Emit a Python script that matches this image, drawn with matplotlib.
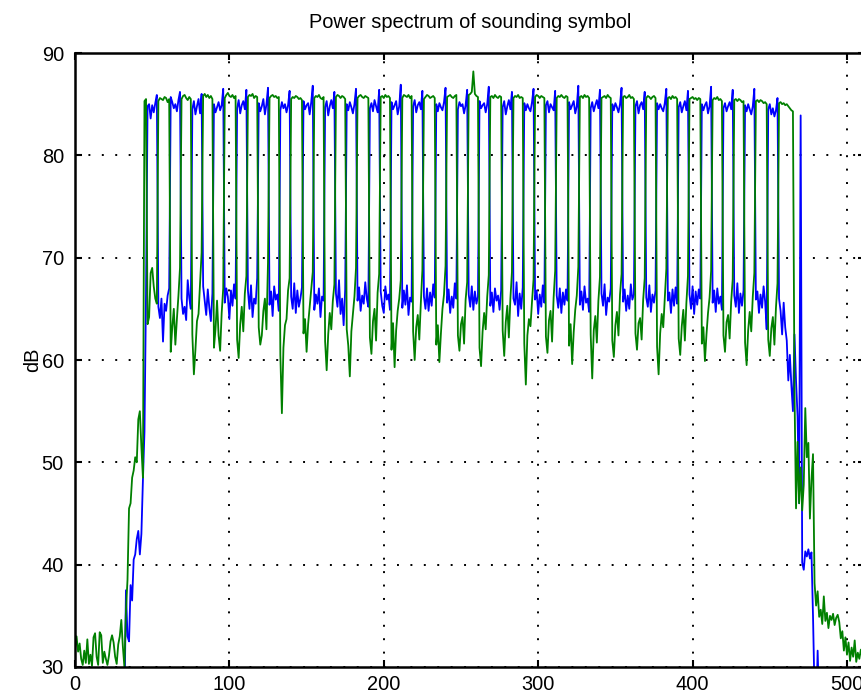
import numpy as np
import matplotlib
matplotlib.use("Agg")
import matplotlib.pyplot as plt

plt.rcParams['font.family'] = ['Liberation Sans', 'DejaVu Sans']

# bins 0..46 (lower band edge)
blue_head = [24.5, 26.0, 23.8, 25.2, 27.1, 24.0, 22.6, 25.8, 26.4, 23.5,
             24.9, 27.3, 25.5, 23.1, 24.4, 26.7, 25.0, 22.9, 24.2, 26.1,
             27.5, 25.3, 23.7, 24.8, 26.9, 27.8, 25.6, 26.3, 28.2, 27.0,
             28.5, 27.7, 26.0, 37.5, 33.0, 32.5, 38.0, 36.5, 40.5, 41.0,
             42.5, 43.3, 41.0, 43.0, 48.3, 53.0, 66.5]
green_head = [31.8, 33.0, 31.5, 32.3, 30.8, 30.2, 31.6, 30.4, 32.7, 30.3,
              31.2, 30.1, 32.9, 33.3, 31.0, 30.2, 33.4, 33.1, 30.4, 31.5,
              30.8, 30.2, 31.1, 32.5, 33.1, 32.4, 31.0, 30.3, 32.2, 33.0,
              34.6, 32.0, 30.0, 35.5, 38.5, 45.5, 46.0, 48.5, 49.2, 50.5,
              50.0, 54.2, 55.0, 51.5, 48.5, 85.3, 85.5]

# bins 47..465, one row per comb period
blue_band = [
    [84.8, 85.0, 83.6, 84.9, 84.2, 85.1, 85.9, 65.2, 64.1, 66.0, 61.8, 65.5, 64.8, 66.3, 67.0],
    [85.7, 85.2, 84.6, 85.0, 84.3, 85.4, 86.2, 66.0, 64.5, 65.2, 63.9, 67.8, 66.1, 65.0],
    [84.5, 85.3, 84.0, 84.8, 85.5, 84.1, 86.0, 67.2, 65.8, 64.4, 66.9, 65.1, 63.8, 66.5],
    [85.0, 84.2, 84.7, 85.2, 84.4, 84.9, 86.5, 65.6, 67.0, 66.2, 64.0, 66.8, 65.3, 67.4, 66.0],
    [84.6, 85.4, 84.1, 84.9, 85.3, 84.5, 86.4, 66.8, 65.0, 67.3, 64.2, 66.0, 65.5, 68.0],
    [85.1, 84.3, 84.8, 85.5, 84.0, 85.0, 86.6, 65.4, 66.7, 64.3, 67.2, 65.9, 66.4, 64.8],
    [84.4, 85.2, 84.6, 85.0, 84.2, 84.9, 86.3, 66.2, 65.0, 67.5, 64.6, 66.8, 65.2, 66.0, 67.1],
    [85.3, 84.5, 84.9, 85.1, 84.0, 85.2, 86.8, 64.9, 66.4, 65.5, 67.0, 64.2, 66.2, 65.8],
    [84.7, 85.3, 83.9, 84.8, 85.4, 84.6, 86.2, 66.5, 65.2, 67.8, 64.5, 66.0, 63.4, 66.9],
    [85.0, 84.4, 85.2, 84.7, 84.1, 85.0, 86.5, 65.8, 67.1, 64.8, 66.3, 65.5, 67.6, 66.0, 65.2],
    [84.6, 85.1, 84.3, 85.4, 84.8, 84.2, 86.4, 66.7, 65.3, 64.6, 67.2, 65.9, 66.4, 64.9],
    [85.2, 84.5, 84.9, 85.3, 84.0, 84.8, 86.9, 65.1, 66.8, 65.4, 67.3, 64.4, 66.1, 65.7],
    [84.8, 85.4, 84.2, 84.9, 85.2, 84.5, 86.3, 66.2, 65.0, 67.0, 64.8, 66.6, 65.3, 67.4, 66.1],
    [85.0, 84.3, 85.1, 84.7, 84.4, 85.2, 86.6, 65.6, 66.9, 64.6, 66.2, 65.1, 67.5, 66.0],
    [84.5, 85.2, 84.8, 85.0, 84.1, 84.9, 86.4, 66.4, 65.2, 67.2, 64.9, 66.7, 65.5, 66.2],
    [85.3, 84.6, 84.9, 85.1, 84.2, 85.0, 86.7, 65.3, 66.6, 64.7, 67.0, 65.8, 66.3, 64.9, 66.8],
    [84.7, 85.3, 84.0, 84.8, 85.4, 84.5, 86.2, 66.0, 65.4, 67.6, 64.3, 66.5, 65.0, 67.1],
    [85.1, 84.4, 85.0, 84.6, 84.3, 85.2, 86.5, 65.9, 66.8, 64.5, 66.4, 65.2, 67.3, 65.6],
    [84.9, 85.3, 84.2, 85.0, 84.7, 84.4, 86.3, 66.3, 65.1, 67.0, 64.6, 66.6, 65.4, 66.9, 65.8],
    [85.2, 84.5, 84.9, 85.3, 84.1, 84.8, 86.8, 65.4, 66.7, 64.9, 67.2, 65.6, 66.0, 64.7],
    [84.6, 85.2, 84.3, 84.9, 85.4, 84.6, 86.4, 66.5, 65.3, 67.4, 64.4, 66.1, 65.7, 67.0],
    [85.0, 84.4, 85.1, 84.7, 84.2, 85.0, 86.6, 65.7, 66.9, 64.8, 66.3, 65.0, 67.4, 65.9, 66.4],
    [84.8, 85.3, 84.1, 84.9, 85.2, 84.5, 86.2, 66.1, 65.2, 67.3, 64.7, 66.4, 65.6, 66.8],
    [85.1, 84.5, 85.0, 84.6, 84.3, 85.1, 86.5, 65.8, 66.6, 64.6, 66.9, 65.3, 67.1, 65.5],
    [84.7, 85.2, 84.2, 84.8, 85.3, 84.4, 86.3, 66.4, 65.0, 67.2, 64.5, 66.7, 65.4, 66.9, 66.0],
    [85.0, 84.4, 84.9, 85.2, 84.1, 84.8, 86.7, 65.6, 66.8, 64.7, 67.0, 65.5, 66.2, 64.9],
    [84.6, 85.1, 84.3, 84.8, 85.2, 84.5, 86.4, 66.3, 65.2, 67.5, 64.6, 66.5, 65.3, 66.8],
    [84.9, 84.3, 85.0, 84.5, 84.0, 84.8, 86.5, 65.9, 66.7, 64.6, 66.4, 65.1, 67.2, 65.7, 63.0],
    [84.5, 85.0, 84.0, 84.6, 83.8, 84.4, 85.6, 66.0, 64.8, 62.5, 65.6, 63.2, 61.9, 58.0, 60.5, 57.5, 55.0],
]
green_band = [
    [63.5, 64.2, 68.5, 69.0, 67.2, 66.0, 65.5, 85.3, 85.6, 85.5, 85.4, 85.7, 85.6, 85.2, 85.5],
    [60.8, 63.2, 65.0, 61.5, 64.0, 66.3, 69.0, 85.5, 85.8, 85.9, 85.6, 85.4, 85.7, 85.5],
    [62.5, 58.6, 61.0, 63.8, 64.5, 67.5, 70.5, 85.8, 86.0, 85.7, 85.9, 85.6, 85.8, 85.5],
    [61.2, 63.0, 65.8, 62.4, 60.9, 64.6, 67.0, 85.6, 85.9, 86.1, 85.8, 85.7, 85.9, 85.6, 85.8],
    [62.0, 60.2, 63.5, 65.2, 62.8, 66.5, 68.2, 85.7, 85.9, 85.8, 86.0, 85.6, 85.8, 85.7],
    [63.2, 61.5, 62.4, 64.8, 66.0, 63.0, 69.5, 85.6, 85.8, 85.9, 85.7, 85.8, 85.6, 85.7],
    [60.5, 54.8, 61.2, 63.4, 64.0, 66.8, 68.0, 85.5, 85.7, 85.6, 85.8, 85.7, 85.5, 85.6, 85.4],
    [62.6, 64.0, 60.8, 63.5, 65.2, 67.0, 68.6, 85.6, 85.8, 85.7, 85.9, 85.6, 85.5, 85.7],
    [61.8, 59.0, 62.5, 64.6, 63.0, 65.8, 67.4, 85.7, 85.9, 85.8, 85.6, 85.8, 85.7, 85.5],
    [63.0, 61.4, 58.4, 62.8, 64.5, 66.2, 69.0, 85.6, 85.8, 85.9, 85.7, 85.6, 85.8, 85.7, 85.6],
    [62.2, 60.6, 63.8, 65.0, 61.9, 66.6, 68.4, 85.7, 85.8, 85.6, 85.9, 85.7, 85.8, 85.6],
    [61.0, 63.6, 59.3, 62.9, 64.8, 66.0, 67.8, 85.6, 85.9, 85.8, 85.7, 85.9, 85.6, 85.8],
    [62.8, 60.0, 63.2, 64.4, 62.0, 65.6, 68.8, 85.5, 85.7, 85.9, 85.8, 85.6, 85.7, 85.8, 85.6],
    [61.5, 63.4, 59.8, 62.6, 65.0, 66.4, 69.2, 85.7, 85.8, 85.9, 85.7, 85.6, 85.8, 85.9],
    [62.4, 60.9, 63.5, 64.2, 61.6, 65.9, 67.6, 85.9, 86.0, 86.2, 88.2, 86.0, 85.8, 85.7],
    [61.2, 59.4, 62.8, 64.6, 63.0, 66.2, 68.3, 85.7, 85.8, 85.6, 85.9, 85.7, 85.6, 85.8, 85.7],
    [62.9, 60.4, 63.7, 65.3, 62.2, 66.0, 68.6, 85.6, 85.8, 85.7, 85.9, 85.6, 85.7, 85.6],
    [61.6, 57.6, 62.4, 64.0, 63.3, 65.7, 67.9, 85.7, 85.9, 85.8, 85.6, 85.8, 85.7, 85.6],
    [62.3, 60.7, 63.9, 64.8, 61.8, 66.1, 68.7, 85.6, 85.8, 85.7, 85.9, 85.7, 85.6, 85.8, 85.7],
    [61.4, 63.5, 59.6, 62.7, 64.9, 66.3, 69.1, 85.7, 85.8, 85.6, 85.9, 85.7, 85.8, 85.6],
    [62.5, 58.2, 62.9, 64.3, 61.7, 65.8, 68.1, 85.6, 85.7, 85.8, 85.6, 85.9, 85.7, 85.6],
    [61.9, 60.3, 63.4, 64.7, 62.4, 66.4, 68.4, 85.7, 85.8, 85.6, 85.7, 85.9, 85.6, 85.7, 85.5],
    [62.6, 61.0, 63.6, 64.1, 62.0, 65.9, 68.0, 85.6, 85.8, 85.7, 85.5, 85.7, 85.8, 85.6],
    [61.3, 58.6, 62.6, 64.5, 63.2, 66.0, 68.9, 85.6, 85.7, 85.5, 85.8, 85.6, 85.7, 85.5],
    [62.1, 60.5, 63.3, 64.9, 61.9, 65.6, 68.2, 85.5, 85.6, 85.7, 85.5, 85.6, 85.4, 85.6, 85.5],
    [61.6, 63.2, 59.9, 62.5, 64.6, 66.1, 68.7, 85.4, 85.6, 85.5, 85.7, 85.4, 85.5, 85.3],
    [62.4, 60.8, 63.7, 64.4, 62.1, 65.7, 67.9, 85.4, 85.5, 85.3, 85.5, 85.4, 85.2, 85.3],
    [61.7, 59.5, 62.9, 64.7, 62.8, 66.2, 68.5, 85.3, 85.4, 85.2, 85.4, 85.3, 85.1, 85.2, 85.0],
    [62.0, 60.4, 63.1, 64.2, 61.5, 65.1, 67.5, 85.1, 85.2, 85.0, 85.1, 84.9, 85.0, 84.8, 84.6, 84.4, 84.3],
]

# bins 466..511 (upper band edge)
blue_tail = [62.5, 58.0, 54.5, 46.0, 83.9, 40.2, 39.5, 41.3, 40.8, 41.5,
             40.6, 41.2, 35.0, 27.0, 25.0, 31.6, 26.0, 24.1, 25.7, 23.4,
             26.2, 22.8, 24.9, 25.5, 23.0, 26.8, 24.3, 22.5, 25.1, 23.9,
             26.5, 24.6, 22.2, 25.9, 23.3, 24.7, 26.0, 23.6, 22.9, 25.4,
             24.0, 23.2, 26.3, 24.8, 22.7, 25.0]
green_tail = [57.0, 45.5, 52.0, 46.0, 49.5, 45.3, 47.8, 55.3, 50.5, 51.9,
              44.5, 48.3, 50.8, 38.2, 36.0, 37.4, 34.9, 35.6, 34.2, 36.9,
              34.5, 35.3, 33.8, 35.0, 34.6, 35.2, 34.1, 34.8, 35.1, 34.4,
              32.8, 33.5, 31.6, 32.9, 31.2, 32.4, 30.6, 31.9, 31.0, 32.6,
              30.5, 31.4, 30.8, 31.7, 30.9, 31.3]

blue = np.array(blue_head + sum(blue_band, []) + blue_tail)
green = np.array(green_head + sum(green_band, []) + green_tail)

fig = plt.figure(figsize=(8.62, 6.98), dpi=100)
ax = fig.add_axes([75 / 862, 31 / 698, 790.5 / 862, 614 / 698])
ax.plot(np.arange(len(blue)), blue, color=(0, 0, 1), lw=1.3)
ax.plot(np.arange(len(green)), green, color=(0, 0.5, 0), lw=1.3)

ax.set_xlim(0, 512)
ax.set_ylim(30, 90)
ax.set_xticks(range(0, 501, 100))
ax.set_yticks(range(30, 91, 10))
ax.grid(True, color="k", linestyle=(0, (1, 5.9)), linewidth=1.4)
ax.tick_params(direction="in", top=True, right=True, length=5, width=1.5,
               labelsize=14.4, pad=8)
ax.tick_params(axis="x", pad=6)
for s in ax.spines.values():
    s.set_linewidth(1.8)

ax.set_title("Power spectrum of sounding symbol", fontsize=14.4, pad=18)
ax.set_ylabel("dB", fontsize=14.4)
ax.yaxis.set_label_coords(-0.042, 0.5)

fig.savefig("out.png", dpi=100)
